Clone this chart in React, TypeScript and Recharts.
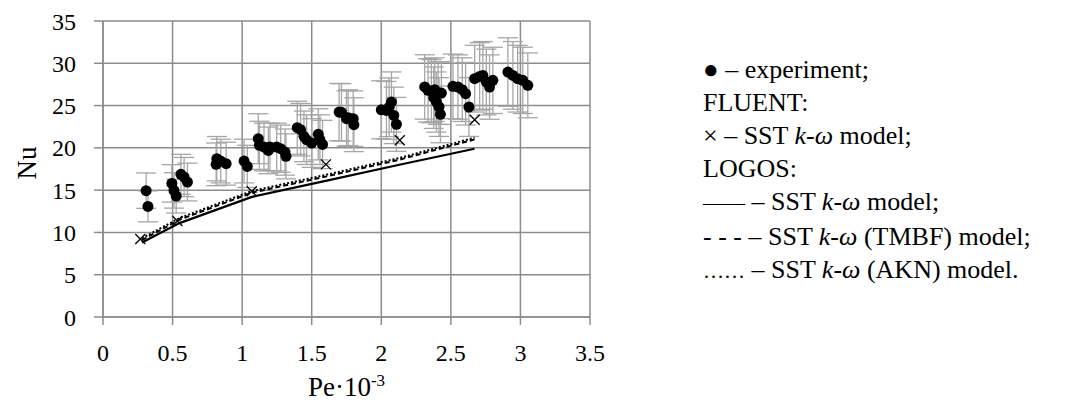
import React from "react";
import {
  ComposedChart,
  Scatter,
  XAxis,
  YAxis,
  CartesianGrid,
  ErrorBar,
  Label,
} from "recharts";

// ---------- data ----------
const expPe = [
  0.31, 0.323, 0.495, 0.51, 0.526, 0.56, 0.583, 0.607, 0.813, 0.818, 0.846, 0.885,
  1.014, 1.037, 1.116, 1.124, 1.157, 1.188, 1.2, 1.248, 1.277, 1.308, 1.315, 1.396,
  1.42, 1.444, 1.463, 1.5, 1.547, 1.559, 1.578, 1.697, 1.714, 1.75, 1.762, 1.798,
  1.803, 2.0, 2.037, 2.056, 2.073, 2.09, 2.109, 2.312, 2.336, 2.36, 2.377, 2.384,
  2.396, 2.408, 2.415, 2.425, 2.432, 2.515, 2.551, 2.582, 2.606, 2.63, 2.671, 2.707,
  2.73, 2.755, 2.778, 2.802, 2.91, 2.946, 2.98, 3.017, 3.053,
];
const expNu = [
  14.94, 13.08, 15.8, 14.97, 14.3, 16.87, 16.55, 15.96, 18.05, 18.72, 18.44, 18.13,
  18.44, 17.81, 21.08, 20.3, 20.1, 19.7, 20.1, 20.1, 19.9, 19.5, 19.0, 22.38,
  22.15, 21.36, 20.97, 20.57, 21.6, 20.97, 20.4, 24.23, 24.2, 23.45, 23.57, 23.45,
  22.74, 24.5, 24.43, 24.8, 25.42, 23.84, 22.78, 27.2, 26.8, 26.7, 25.93, 26.88,
  25.42, 26.48, 24.83, 23.96, 26.48, 27.27, 27.19, 26.88, 26.4, 24.83, 28.18, 28.45,
  28.57, 27.78, 27.19, 27.98, 28.96, 28.57, 28.18, 27.98, 27.39,
];
// relative experimental uncertainty (percentage error bars)
const EXP_REL_ERROR = 0.14;

const fluentPe = [0.268, 0.535, 1.069, 1.602, 2.133, 2.671];
const fluentNu = [9.22, 11.35, 14.86, 18.05, 20.89, 23.33];

const logosPe = [0.28, 0.55, 1.07, 1.6, 2.13, 2.67];
const logosSstNu = [8.8, 11.1, 14.2, 16.1, 18.0, 19.9];
const logosTmbfNu = [9.1, 11.5, 14.7, 16.6, 18.6, 21.0];
const logosAknNu = [9.3, 11.7, 14.9, 16.8, 18.8, 21.2];

const xTicks = [0, 0.5, 1, 1.5, 2, 2.5, 3, 3.5];
const yTicks = [0, 5, 10, 15, 20, 25, 30, 35];

// ---------- derived tables ----------
const expData = expPe.map((x, i) => ({ x, y: expNu[i], err: expNu[i] * EXP_REL_ERROR }));
const fluentData = fluentPe.map((x, i) => ({ x, y: fluentNu[i] }));
const sstData = logosPe.map((x, i) => ({ x, y: logosSstNu[i] }));
const tmbfData = logosPe.map((x, i) => ({ x, y: logosTmbfNu[i] }));
const aknData = logosPe.map((x, i) => ({ x, y: logosAknNu[i] }));

const FONT = "'Liberation Serif', 'Times New Roman', Times, serif";
const GRID = "#8c8c8c";
const W = 1062;
const H = 397;

const Nothing = () => null;

const Dot = (props: any) => {
  const { cx, cy } = props;
  if (cx == null || cy == null) return null;
  return <circle cx={cx} cy={cy} r={5.5} fill="#000" />;
};

const XMark = (props: any) => {
  const { cx, cy } = props;
  if (cx == null || cy == null) return null;
  const s = 5;
  return (
    <g stroke="#000" strokeWidth={1.3}>
      <line x1={cx - s} y1={cy - s} x2={cx + s} y2={cy + s} />
      <line x1={cx - s} y1={cy + s} x2={cx + s} y2={cy - s} />
    </g>
  );
};

const K = () => (
  <>
    <i>k</i>-<i>ω</i>
  </>
);

const sym = { fontSize: 21 } as React.CSSProperties;

const legendRows: React.ReactNode[] = [
  <>● – experiment;</>,
  <>FLUENT:</>,
  <>× – SST <K /> model;</>,
  <>LOGOS:</>,
  <><span style={sym}>——</span> – SST <K /> model;</>,
  <>- - - – SST <K /> (TMBF) model;</>,
  <><span style={sym}>……</span> – SST <K /> (AKN) model.</>,
];

const LegendBox = () => (
  <div
    style={{
      position: "absolute",
      left: 695,
      top: 45,
      fontFamily: FONT,
      fontSize: 26,
      lineHeight: "33px",
      color: "#000",
      whiteSpace: "nowrap",
    }}
  >
    {legendRows.map((r, i) => (
      <div key={i}>{r}</div>
    ))}
  </div>
);

const XLabel = (props: any) => {
  const vb = props.viewBox || {};
  const cx = (vb.x || 0) + (vb.width || 0) / 2;
  const y = (vb.y || 0) + 79;
  return (
    <text x={cx} y={y} textAnchor="middle" fontFamily={FONT} fontSize={27} fill="#000">
      Pe·10
      <tspan dy={-10} fontSize={17}>-3</tspan>
    </text>
  );
};

const YLabel = () => (
  <text
    x={19}
    y={155}
    transform="rotate(-90 19 155)"
    textAnchor="middle"
    dominantBaseline="central"
    fontFamily={FONT}
    fontSize={27}
    fill="#000"
  >
    Nu
  </text>
);

export default function App() {
  return (
    <div style={{ position: "relative", width: W, height: H }}>
      <ComposedChart
        width={W}
        height={H}
        margin={{ top: 13, right: 480, bottom: 28, left: 0 }}
        style={{ fontFamily: FONT }}
      >
        <CartesianGrid stroke={GRID} strokeWidth={1.5} />
        <XAxis
          type="number"
          dataKey="x"
          domain={[0, 3.5]}
          ticks={xTicks}
          interval={0}
          height={60}
          tickSize={8}
          tickMargin={19}
          stroke={GRID}
          strokeWidth={1.5}
          tick={{ fill: "#000", fontSize: 24, fontFamily: FONT }}
          allowDataOverflow
        >
          <Label content={<XLabel />} />
        </XAxis>
        <YAxis
          type="number"
          dataKey="y"
          domain={[0, 35]}
          ticks={yTicks}
          interval={0}
          width={95}
          tickSize={9}
          tickMargin={18}
          stroke={GRID}
          strokeWidth={1.5}
          tick={{ fill: "#000", fontSize: 24, fontFamily: FONT }}
        >
          <Label content={<YLabel />} />
        </YAxis>
        <Scatter data={expData} shape={<Nothing />} isAnimationActive={false} legendType="none">
          <ErrorBar dataKey="err" direction="y" width={10} stroke="#a6a6a6" strokeWidth={1.3} isAnimationActive={false} />
        </Scatter>
        <Scatter
          data={sstData}
          shape={<Nothing />}
          line={{ stroke: "#000", strokeWidth: 2.2 }}
          lineType="joint"
          isAnimationActive={false}
          legendType="none"
        />
        <Scatter
          data={tmbfData}
          shape={<Nothing />}
          line={{ stroke: "#000", strokeWidth: 2, strokeDasharray: "5 3" }}
          lineType="joint"
          isAnimationActive={false}
          legendType="none"
        />
        <Scatter
          data={aknData}
          shape={<Nothing />}
          line={{ stroke: "#000", strokeWidth: 2, strokeDasharray: "2 2" }}
          lineType="joint"
          isAnimationActive={false}
          legendType="none"
        />
        <Scatter data={fluentData} shape={<XMark />} isAnimationActive={false} legendType="none" />
        <Scatter data={expData} shape={<Dot />} isAnimationActive={false} legendType="none" />
      </ComposedChart>
      <LegendBox />
    </div>
  );
}
